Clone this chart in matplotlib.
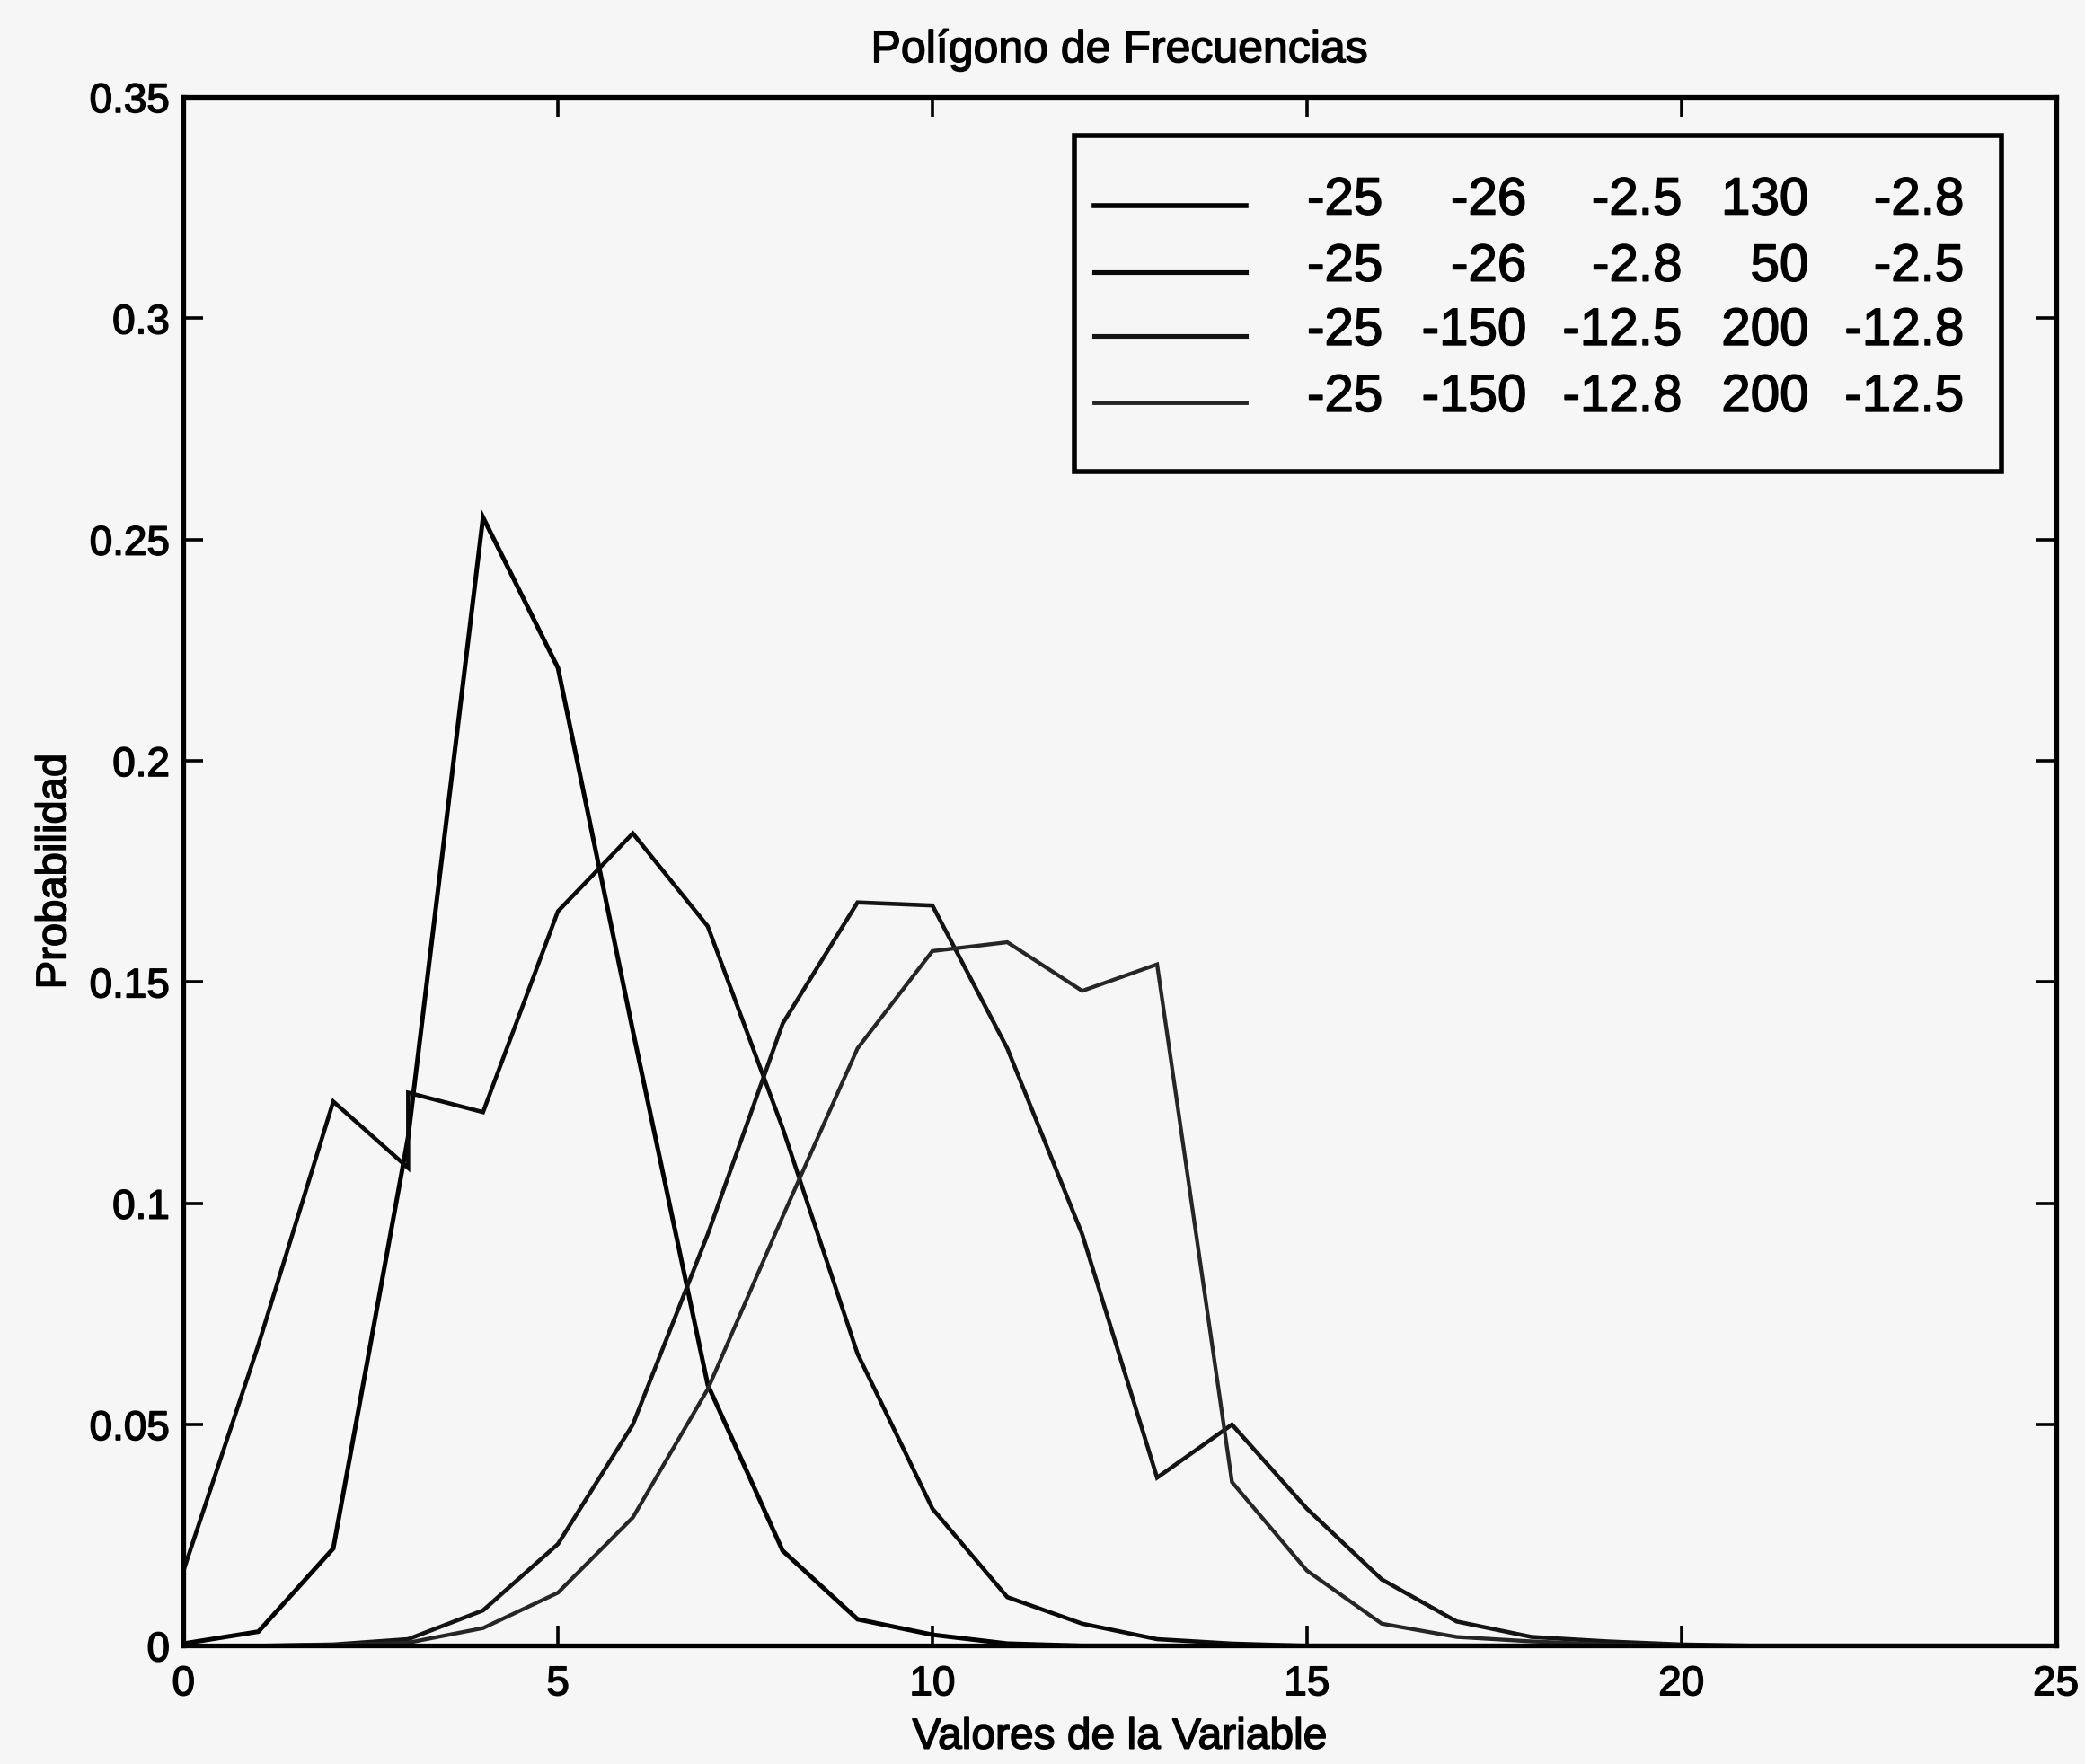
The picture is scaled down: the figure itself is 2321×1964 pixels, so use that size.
import matplotlib
matplotlib.use("Agg")
import matplotlib.pyplot as plt
import matplotlib.patheffects as pe
from matplotlib.patches import Rectangle
from matplotlib.lines import Line2D

plt.rcParams['font.family'] = ['Liberation Sans', 'DejaVu Sans']

# ---------------- data ----------------
x_p = list(range(0, 26))
prob_p = [0.0005, 0.0032, 0.022, 0.115, 0.255, 0.221, 0.139, 0.059, 0.0215, 0.006,
          0.0025, 0.0005, 0, 0, 0, 0, 0, 0, 0, 0, 0, 0, 0, 0, 0, 0]

x_q = [0, 1, 2, 3, 3, 4, 5, 6, 7, 8, 9, 10, 11, 12, 13, 14, 15, 16, 17, 18, 19, 20,
       21, 22, 23, 24, 25]
prob_q = [0.017, 0.068, 0.123, 0.108, 0.125, 0.1206, 0.166, 0.1836, 0.1626, 0.117,
          0.066, 0.031, 0.011, 0.005, 0.0015, 0.0005, 0, 0, 0, 0, 0, 0, 0, 0, 0, 0, 0]

x_r = list(range(0, 26))
prob_r = [0, 0, 0.0003, 0.0015, 0.008, 0.023, 0.05, 0.093, 0.1406, 0.168, 0.1673,
          0.135, 0.093, 0.038, 0.050, 0.031, 0.015, 0.0055, 0.002, 0.001, 0.0003,
          0, 0, 0, 0, 0]

x_s = list(range(0, 26))
prob_s = [0, 0, 0.0002, 0.0007, 0.004, 0.012, 0.029, 0.058, 0.097, 0.135, 0.157,
          0.159, 0.148, 0.154, 0.037, 0.017, 0.005, 0.002, 0.001, 0.0003, 0,
          0, 0, 0, 0, 0]

legend_rows = [
    ["-25", "-26", "-2.5", "130", "-2.8"],
    ["-25", "-26", "-2.8", "50", "-2.5"],
    ["-25", "-150", "-12.5", "200", "-12.8"],
    ["-25", "-150", "-12.8", "200", "-12.5"],
]

x_ticks = [0, 5, 10, 15, 20, 25]
x_ticklabels = ["0", "5", "10", "15", "20", "25"]
y_ticks = [0, 0.05, 0.1, 0.15, 0.2, 0.25, 0.3, 0.35]
y_ticklabels = ["0", "0.05", "0.1", "0.15", "0.2", "0.25", "0.3", "0.35"]

title = "Polígono de Frecuencias"
xlabel = "Valores de la Variable"
ylabel = "Probabilidad"

# ---------------- styling ----------------
bg = "#f6f6f6"
heavy = [pe.withStroke(linewidth=1.1, foreground="#000000")]
series = [
    (x_p, prob_p, "#000000", 3.6),
    (x_q, prob_q, "#0a0a0a", 3.3),
    (x_r, prob_r, "#141414", 3.3),
    (x_s, prob_s, "#262626", 3.1),
]

fig = plt.figure(figsize=(23.21, 19.64), dpi=100, facecolor=bg)
ax = fig.add_axes([0.088, 0.067, 0.898, 0.878], facecolor=bg)

for xs, ys, col, lw in series:
    ax.plot(xs, ys, color=col, linewidth=lw, solid_joinstyle='miter')

ax.set_xlim(0, 25)
ax.set_ylim(0, 0.35)
ax.set_xticks(x_ticks)
ax.set_xticklabels(x_ticklabels)
ax.set_yticks(y_ticks)
ax.set_yticklabels(y_ticklabels)

for sp in ax.spines.values():
    sp.set_linewidth(3.8)
    sp.set_color("#000000")

ax.tick_params(axis='both', direction='in', top=True, right=True,
               length=16, width=2.6, labelsize=33, colors="#000000")
ax.tick_params(axis='x', pad=15)
ax.tick_params(axis='y', pad=11)
for lab in ax.get_xticklabels() + ax.get_yticklabels():
    lab.set_path_effects(heavy)

t = ax.set_title(title, fontsize=36, pad=28)
t.set_path_effects(heavy)
xl = ax.set_xlabel(xlabel, fontsize=34.5)
xl.set_path_effects(heavy)
ax.xaxis.set_label_coords(0.5, -0.046)
yl = ax.set_ylabel(ylabel, fontsize=34)
yl.set_path_effects(heavy)
ax.yaxis.set_label_coords(-0.058, 0.5)

# ---------------- legend (MATLAB-style table) ----------------
box = Rectangle((0.476, 0.758), 0.495, 0.217, transform=ax.transAxes,
                facecolor=bg, edgecolor="#000000", linewidth=4.0, zorder=5)
ax.add_patch(box)
row_y = [0.930, 0.887, 0.8457, 0.8028]
col_right = [0.6406, 0.7174, 0.8004, 0.868, 0.951]
for (xs, ys, col, lw), ry, row in zip(series, row_y, legend_rows):
    ax.add_line(Line2D([0.4866, 0.5677], [ry, ry], transform=ax.transAxes,
                       color=col, linewidth=lw + 0.4, zorder=6))
    for cx, txt in zip(col_right, row):
        tx = ax.text(cx, ry + 0.003, txt, transform=ax.transAxes, ha='right',
                     va='center', fontsize=42, zorder=6)
        tx.set_path_effects(heavy)

fig.savefig("out.png", dpi=100, facecolor=bg)
